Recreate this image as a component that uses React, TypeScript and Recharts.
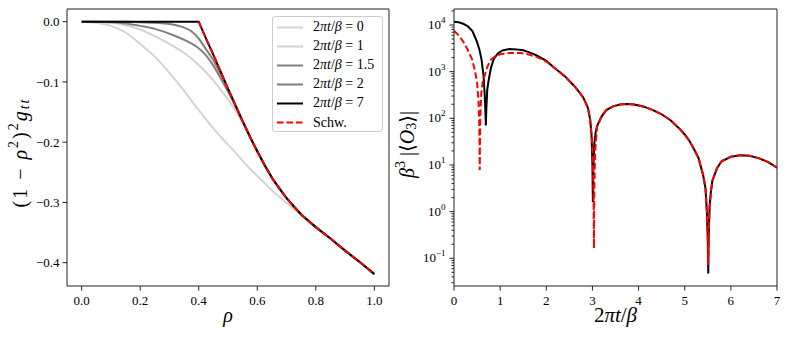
import React from 'react'
import { LineChart, Line, XAxis, YAxis, Legend } from 'recharts'

const FONT = '"Liberation Serif", "DejaVu Serif", serif'

// ---- left panel: (1 - rho^2)^2 g_tt vs rho ----
const RHO = [
  0, 0.05, 0.1, 0.15, 0.2, 0.25, 0.3, 0.35, 0.375, 0.4, 0.425, 0.45, 0.475, 0.5,
  0.525, 0.55, 0.575, 0.6, 0.625, 0.65, 0.7, 0.75, 0.8, 0.85, 0.9, 0.95, 1.0,
]
const G_T0 = [
  0, -0.002, -0.007, -0.018, -0.037, -0.058, -0.085, -0.115, -0.131, -0.147, -0.162, -0.177, -0.191, -0.204,
  -0.217, -0.231, -0.244, -0.256, -0.268, -0.28, -0.301, -0.321, -0.341, -0.36, -0.38, -0.399, -0.419,
]
const G_T1 = [
  0, -0.0005, -0.002, -0.006, -0.013, -0.024, -0.037, -0.052, -0.061, -0.072, -0.084, -0.098, -0.113, -0.129,
  -0.147, -0.168, -0.192, -0.216, -0.238, -0.259, -0.293, -0.32, -0.341, -0.36, -0.38, -0.399, -0.419,
]
const G_T15 = [
  0, 0, -0.001, -0.003, -0.007, -0.012, -0.02, -0.03, -0.036, -0.044, -0.056, -0.073, -0.094, -0.116,
  -0.14, -0.166, -0.191, -0.215, -0.238, -0.259, -0.293, -0.32, -0.341, -0.36, -0.38, -0.399, -0.419,
]
const G_T2 = [
  0, 0, 0, 0, -0.001, -0.002, -0.004, -0.01, -0.016, -0.028, -0.046, -0.064, -0.087, -0.112,
  -0.139, -0.165, -0.191, -0.215, -0.238, -0.259, -0.293, -0.32, -0.341, -0.36, -0.38, -0.399, -0.419,
]
const G_T7 = [
  0, 0, 0, 0, 0, 0, 0, 0, 0, 0, -0.028, -0.055, -0.083, -0.111,
  -0.138, -0.165, -0.191, -0.215, -0.238, -0.259, -0.293, -0.32, -0.341, -0.36, -0.38, -0.399, -0.419,
]
const G_SCHW = [
  null, null, null, null, null, null, null, null, null, 0, -0.028, -0.055, -0.083, -0.111,
  -0.138, -0.165, -0.191, -0.215, -0.238, -0.259, -0.293, -0.32, -0.341, -0.36, -0.38, -0.399, -0.419,
]
const RHO_TICKS = [0, 0.2, 0.4, 0.6, 0.8, 1.0]
const G_TICKS = [-0.4, -0.3, -0.2, -0.1, 0]

// ---- right panel: beta^3 |<O_3>| vs 2 pi t / beta ----
const T_BLACK = [
  0, 0.1, 0.2, 0.3, 0.4, 0.5, 0.55, 0.6, 0.64, 0.665, 0.68, 0.69, 0.7, 0.72, 0.75, 0.8, 0.86, 0.95, 1.05,
  1.2, 1.35, 1.5, 1.65, 1.8, 2.0, 2.2, 2.4, 2.6, 2.7, 2.8, 2.9, 2.95, 2.98, 3.0, 3.01, 3.02, 3.04, 3.07,
  3.1, 3.2, 3.3, 3.45, 3.6, 3.75, 3.9, 4.1, 4.3, 4.5, 4.7, 4.9, 5.0, 5.1, 5.2, 5.3, 5.4, 5.45, 5.48, 5.5,
  5.51, 5.52, 5.54, 5.57, 5.6, 5.7, 5.8, 6.0, 6.2, 6.4, 6.6, 6.8, 7.0,
]
const O3_BLACK = [
  11700, 11400, 10600, 9400, 7400, 4300, 3000, 1750, 800, 330, 140, 70, 150, 400, 650, 1200, 1850, 2450, 2850,
  3050, 3000, 2880, 2560, 2200, 1700, 1150, 800, 500, 380, 280, 170, 95, 45, 10, 1.6, 9, 28, 50,
  68, 110, 150, 180, 198, 203, 198, 180, 152, 122, 90, 58, 45, 33, 22, 14, 6, 3.2, 1.0, 0.25,
  0.047, 0.3, 1.3, 2.8, 4.6, 8.5, 12, 15, 16.2, 15.8, 14, 11.7, 8.8,
]
const T_SCHW = [
  0, 0.1, 0.2, 0.3, 0.39, 0.45, 0.5, 0.53, 0.545, 0.553, 0.558, 0.563, 0.57, 0.59, 0.62, 0.66, 0.72, 0.8, 0.9,
  1.0, 1.2, 1.44, 1.6, 1.8, 2.0, 2.2, 2.4, 2.6, 2.7, 2.8, 2.9, 2.95, 2.99, 3.01, 3.025, 3.033, 3.04, 3.06,
  3.1, 3.2, 3.3, 3.45, 3.6, 3.75, 3.9, 4.1, 4.3, 4.5, 4.7, 4.9, 5.0, 5.1, 5.2, 5.3, 5.4, 5.45, 5.48, 5.5,
  5.51, 5.52, 5.54, 5.57, 5.6, 5.7, 5.8, 6.0, 6.2, 6.4, 6.6, 6.8, 7.0,
]
const O3_SCHW = [
  7500, 6000, 4400, 2900, 1860, 1100, 590, 250, 90, 30, 7.8, 35, 110, 330, 580, 800, 1250, 1800, 2150,
  2350, 2500, 2500, 2350, 2050, 1650, 1150, 800, 500, 380, 280, 170, 95, 35, 12, 2, 0.164, 3, 20,
  65, 110, 150, 180, 198, 203, 198, 180, 152, 122, 90, 58, 45, 33, 22, 14, 6, 3.2, 1.0, 0.3,
  0.072, 0.35, 1.3, 2.8, 4.6, 8.5, 12, 15, 16.2, 15.8, 14, 11.7, 8.8,
]
const T_TICKS = [0, 1, 2, 3, 4, 5, 6, 7]
const O3_MAJOR = [0.1, 1, 10, 100, 1000, 10000]
const O3_MINOR = [
  0.03, 0.04, 0.05, 0.06, 0.07, 0.08, 0.09,
  0.2, 0.3, 0.4, 0.5, 0.6, 0.7, 0.8, 0.9,
  2, 3, 4, 5, 6, 7, 8, 9,
  20, 30, 40, 50, 60, 70, 80, 90,
  200, 300, 400, 500, 600, 700, 800, 900,
  2000, 3000, 4000, 5000, 6000, 7000, 8000, 9000,
  20000,
]

const LIGHT = '#d3d3d3'
const MID = '#808080'
const AXIS = '#222'

const LEFT_SERIES = [
  { name: '0', values: G_T0, color: LIGHT, dash: undefined },
  { name: '1', values: G_T1, color: LIGHT, dash: undefined },
  { name: '1.5', values: G_T15, color: MID, dash: undefined },
  { name: '2', values: G_T2, color: MID, dash: undefined },
  { name: '7', values: G_T7, color: '#000', dash: undefined },
  { name: 'Schw.', values: G_SCHW, color: '#ff0000', dash: '6.5 3' },
]

const toPoints = (xs: number[], ys: (number | null)[]) =>
  xs.map((x, i) => ({ x, y: ys[i] })).filter((p) => p.y !== null)

const TICK_SIZE = 4.5
const TICK_MARGIN = 4

// plot box (shared by both panels)
const PLOT_TOP = 9
const PLOT_H = 277

function gFormat(v: number) {
  if (Math.abs(v) < 1e-9) return '0.0'
  return (v < 0 ? '\u2212' : '') + Math.abs(v).toFixed(1)
}

function LogTick(props: any) {
  const { x, y, payload } = props
  const v = payload.value
  const e = Math.log10(v)
  const major = Math.abs(e - Math.round(e)) < 1e-6
  const ax = x + TICK_SIZE + TICK_MARGIN
  const exp = Math.round(e)
  return (
    <g>
      <line x1={ax - (major ? TICK_SIZE : 2.5)} x2={ax} y1={y} y2={y} stroke={AXIS} strokeWidth={1} />
      {major && (
        <text x={x} y={y + 4} textAnchor="end" fontFamily={FONT} fontSize={13} fill="#000">
          <tspan>10</tspan>
          <tspan dy={-6} fontSize={9}>{exp < 0 ? '\u2212' + -exp : String(exp)}</tspan>
        </text>
      )}
    </g>
  )
}

function MathLegend() {
  return (
    <div
      style={{
        width: 111,
        height: 116,
        boxSizing: 'border-box',
        border: '1px solid #cccccc',
        borderRadius: 3,
        background: 'rgba(255,255,255,0.8)',
        fontFamily: FONT,
        fontSize: 14,
        color: '#000',
        paddingTop: 0.5,
      }}
    >
      {LEFT_SERIES.map((s) => (
        <div key={s.name} style={{ display: 'flex', alignItems: 'center', height: 19.1 }}>
          <svg width={36} height={19} style={{ flex: 'none' }}>
            <line x1={4} x2={30} y1={9.5} y2={9.5} stroke={s.color} strokeWidth={2} strokeDasharray={s.dash} />
          </svg>
          <span style={{ marginLeft: 4, whiteSpace: 'nowrap' }}>
            {s.name === 'Schw.' ? (
              'Schw.'
            ) : (
              <>
                2<i>πt</i>/<i>β</i> = {s.name}
              </>
            )}
          </span>
        </div>
      ))}
    </div>
  )
}

const leftYLabel = (props: any) => {
  const vb = props.viewBox || { x: 0 }
  const cx = (vb.x || 0) + 20
  const cy = PLOT_TOP + PLOT_H / 2 + 5
  return (
    <text x={cx} y={cy} transform={`rotate(-90 ${cx} ${cy})`} textAnchor="middle" dominantBaseline="central"
      fontFamily={FONT} fontSize={20} letterSpacing={2} fill="#000">
      <tspan>(1 − </tspan>
      <tspan fontStyle="italic">ρ</tspan>
      <tspan dy={-7} fontSize={14}>2</tspan>
      <tspan dy={7}>)</tspan>
      <tspan dy={-7} fontSize={14}>2</tspan>
      <tspan dy={7} fontStyle="italic">g</tspan>
      <tspan dy={4} fontSize={14} fontStyle="italic">tt</tspan>
    </text>
  )
}

const leftXLabel = (props: any) => {
  const vb = props.viewBox || { x: 67, width: 323 }
  return (
    <text x={vb.x + vb.width / 2} y={PLOT_TOP + PLOT_H + 36} textAnchor="middle" fontFamily={FONT} fontSize={20}
      fontStyle="italic" fill="#000">
      ρ
    </text>
  )
}

const rightYLabel = (props: any) => {
  const vb = props.viewBox || { x: 0 }
  const cx = (vb.x || 0) + 17
  const cy = PLOT_TOP + PLOT_H / 2 - 3
  return (
    <text x={cx} y={cy} transform={`rotate(-90 ${cx} ${cy})`} textAnchor="middle" dominantBaseline="central"
      fontFamily={FONT} fontSize={20} fill="#000">
      <tspan fontStyle="italic">β</tspan>
      <tspan dy={-7} fontSize={14}>3</tspan>
      <tspan dy={7}> |⟨</tspan>
      <tspan fontStyle="italic">O</tspan>
      <tspan dy={4} fontSize={14}>3</tspan>
      <tspan dy={-4}>⟩|</tspan>
    </text>
  )
}

const rightXLabel = (props: any) => {
  const vb = props.viewBox || { x: 64, width: 323 }
  return (
    <text x={vb.x + vb.width / 2} y={PLOT_TOP + PLOT_H + 36} textAnchor="middle" fontFamily={FONT} fontSize={21}
      fill="#000">
      <tspan>2</tspan>
      <tspan fontStyle="italic">πt</tspan>
      <tspan>/</tspan>
      <tspan fontStyle="italic">β</tspan>
    </text>
  )
}

const tickStyle = { fontSize: 13, fill: '#000', fontFamily: FONT }

export default function App() {
  return (
    <div style={{ position: 'absolute', left: 0, top: 0, width: 789, height: 338, background: '#fff' }}>
      <div style={{ position: 'absolute', left: 0, top: 0 }}>
        <LineChart width={390} height={338} margin={{ top: 8, right: 0, bottom: 0, left: 0 }}>
          <XAxis
            type="number"
            dataKey="x"
            domain={[-0.05, 1.05]}
            ticks={RHO_TICKS}
            interval={0}
            allowDataOverflow
            height={52}
            tickSize={TICK_SIZE}
            tickMargin={5}
            tickFormatter={(v: number) => v.toFixed(1)}
            tick={tickStyle}
            stroke={AXIS}
            label={leftXLabel}
          />
          <XAxis xAxisId="top" orientation="top" type="number" domain={[-0.05, 1.05]} height={1}
            tick={false} tickLine={false} stroke={AXIS} />
          <YAxis
            type="number"
            domain={[-0.4387, 0.021]}
            ticks={G_TICKS}
            interval={0}
            allowDataOverflow
            width={67}
            tickSize={TICK_SIZE}
            tickMargin={3}
            tickFormatter={gFormat}
            tick={tickStyle}
            stroke={AXIS}
            label={leftYLabel}
          />
          <YAxis yAxisId="right" orientation="right" type="number" domain={[-0.4387, 0.021]} width={1}
            tick={false} tickLine={false} stroke={AXIS} />
          {LEFT_SERIES.map((s) => (
            <Line
              key={s.name}
              data={toPoints(RHO, s.values)}
              dataKey="y"
              type={s.color === LIGHT || s.color === MID ? 'monotone' : 'linear'}
              stroke={s.color}
              strokeWidth={2}
              strokeDasharray={s.dash}
              dot={false}
              activeDot={false}
              isAnimationActive={false}
            />
          ))}
          <Legend
            layout="vertical"
            align="center"
            verticalAlign="middle"
            wrapperStyle={{ top: 16, left: 272, width: 111, height: 116 }}
            content={() => <MathLegend />}
          />
        </LineChart>
      </div>
      <div style={{ position: 'absolute', left: 390, top: 0 }}>
        <LineChart width={399} height={338} margin={{ top: 8, right: 11, bottom: 0, left: 0 }}>
          <XAxis
            type="number"
            dataKey="x"
            domain={[0, 7]}
            ticks={T_TICKS}
            interval={0}
            allowDataOverflow
            height={52}
            tickSize={TICK_SIZE}
            tickMargin={5}
            tick={tickStyle}
            stroke={AXIS}
            label={rightXLabel}
          />
          <XAxis xAxisId="top" orientation="top" type="number" domain={[0, 7]} height={1}
            tick={false} tickLine={false} stroke={AXIS} />
          <YAxis
            type="number"
            scale="log"
            domain={[0.0255, 22000]}
            ticks={[...O3_MAJOR, ...O3_MINOR].sort((a, b) => a - b)}
            interval={0}
            allowDataOverflow
            width={64}
            tickSize={TICK_SIZE}
            tickMargin={TICK_MARGIN}
            tickLine={false}
            tick={(p: any) => <LogTick {...p} />}
            stroke={AXIS}
            label={rightYLabel}
          />
          <YAxis yAxisId="right" orientation="right" type="number" scale="log" domain={[0.0255, 22000]}
            width={1} tick={false} tickLine={false} stroke={AXIS} />
          <Line
            data={toPoints(T_BLACK, O3_BLACK)}
            dataKey="y"
            type="linear"
            stroke="#000"
            strokeWidth={2}
            dot={false}
            activeDot={false}
            isAnimationActive={false}
          />
          <Line
            data={toPoints(T_SCHW, O3_SCHW)}
            dataKey="y"
            type="linear"
            stroke="#ff0000"
            strokeWidth={2}
            strokeDasharray="6.5 3"
            dot={false}
            activeDot={false}
            isAnimationActive={false}
          />
        </LineChart>
      </div>
    </div>
  )
}
